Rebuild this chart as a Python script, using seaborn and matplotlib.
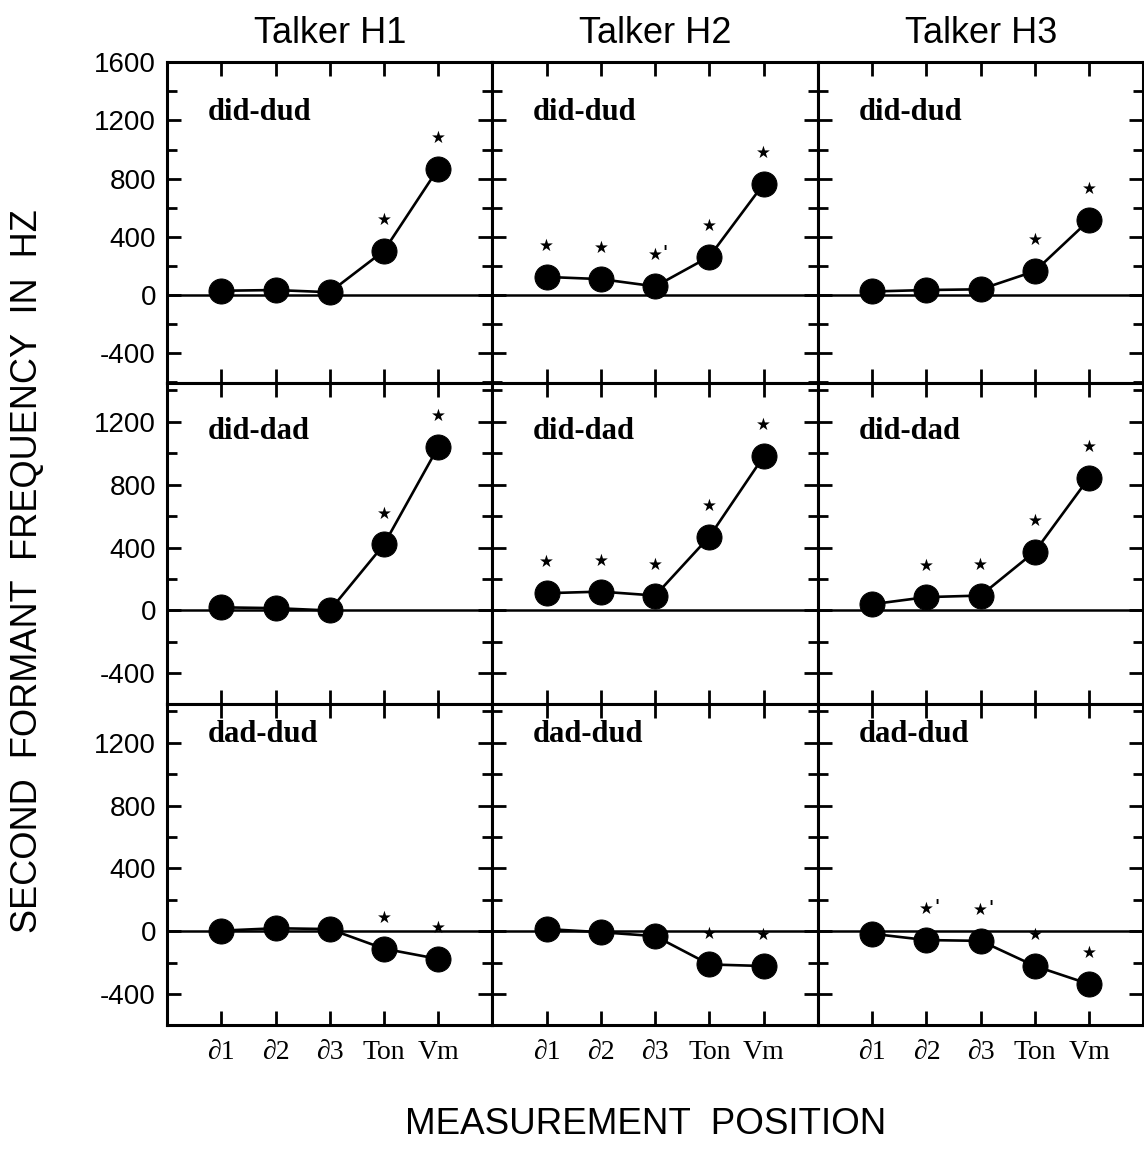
import numpy as np
import pandas as pd
import matplotlib
matplotlib.use("Agg")
import matplotlib.pyplot as plt
import seaborn as sns
from matplotlib.ticker import MultipleLocator

# ---------------- data ----------------
positions = ["∂1", "∂2", "∂3", "Ton", "Vm"]
talkers = ["Talker H1", "Talker H2", "Talker H3"]
contrasts = ["did-dud", "did-dad", "dad-dud"]

h1_did_dud = [30, 35, 20, 305, 870]
h2_did_dud = [125, 110, 60, 265, 765]
h3_did_dud = [25, 35, 40, 165, 515]
h1_did_dad = [20, 15, 0, 420, 1040]
h2_did_dad = [110, 120, 95, 470, 980]
h3_did_dad = [40, 85, 95, 375, 845]
h1_dad_dud = [5, 20, 15, -110, -175]
h2_dad_dud = [15, -5, -30, -210, -220]
h3_dad_dud = [-15, -55, -60, -220, -335]

sig_h1_did_dud = ["", "", "", "*", "*"]
sig_h2_did_dud = ["*", "*", "*'", "*", "*"]
sig_h3_did_dud = ["", "", "", "*", "*"]
sig_h1_did_dad = ["", "", "", "*", "*"]
sig_h2_did_dad = ["*", "*", "*", "*", "*"]
sig_h3_did_dad = ["", "*", "*", "*", "*"]
sig_h1_dad_dud = ["", "", "", "*", "*"]
sig_h2_dad_dud = ["", "", "", "*", "*"]
sig_h3_dad_dud = ["", "*'", "*'", "*", "*"]

values = {
    ("did-dud", "Talker H1"): (h1_did_dud, sig_h1_did_dud),
    ("did-dud", "Talker H2"): (h2_did_dud, sig_h2_did_dud),
    ("did-dud", "Talker H3"): (h3_did_dud, sig_h3_did_dud),
    ("did-dad", "Talker H1"): (h1_did_dad, sig_h1_did_dad),
    ("did-dad", "Talker H2"): (h2_did_dad, sig_h2_did_dad),
    ("did-dad", "Talker H3"): (h3_did_dad, sig_h3_did_dad),
    ("dad-dud", "Talker H1"): (h1_dad_dud, sig_h1_dad_dud),
    ("dad-dud", "Talker H2"): (h2_dad_dud, sig_h2_dad_dud),
    ("dad-dud", "Talker H3"): (h3_dad_dud, sig_h3_dad_dud),
}

rows = []
for (contrast, talker), (vals, sigs) in values.items():
    for i, (p, v, s) in enumerate(zip(positions, vals, sigs)):
        rows.append(dict(contrast=contrast, talker=talker, pos=i,
                         label=p, hz=v, sig=s))
df = pd.DataFrame(rows)

# ---------------- style ----------------
sns.set_theme(style="ticks")
plt.rcParams["font.family"] = ["Liberation Sans", "DejaVu Sans"]
plt.rcParams["axes.unicode_minus"] = False
plt.rcParams["text.color"] = "black"
plt.rcParams["axes.labelcolor"] = "black"
plt.rcParams["xtick.color"] = "black"
plt.rcParams["ytick.color"] = "black"
plt.rcParams["axes.edgecolor"] = "black"

fig, axes = plt.subplots(3, 3, figsize=(11.44, 11.53), dpi=100)
fig.subplots_adjust(left=0.146, right=0.9995, top=0.946, bottom=0.111,
                    hspace=0, wspace=0)

row_ylim = [(-605, 1600), (-595, 1445), (-595, 1445)]
row_label_y = [0.845, 0.850, 0.905]
serif = ["Liberation Serif", "DejaVu Serif"]

for r, contrast in enumerate(contrasts):
    for c, talker in enumerate(talkers):
        ax = axes[r, c]
        sub = df[(df.contrast == contrast) & (df.talker == talker)]
        ax.axhline(0, color="black", lw=1.8, zorder=1)
        sns.lineplot(data=sub, x="pos", y="hz", ax=ax, color="black",
                     lw=1.9, marker="o", markersize=18,
                     markeredgecolor="black", markerfacecolor="black",
                     sort=False, legend=False, zorder=3)
        for _, row in sub.iterrows():
            if row.sig:
                ax.annotate("★", xy=(row.pos, row.hz), xytext=(0, 31),
                            textcoords="offset pixels", ha="center",
                            va="center", fontsize=12, color="black",
                            family="DejaVu Sans")
                if row.sig.endswith("'"):
                    ax.annotate("'", xy=(row.pos, row.hz), xytext=(10, 33),
                                textcoords="offset pixels", ha="center",
                                va="center", fontsize=12, color="black",
                                fontweight="bold", family="DejaVu Sans")
        ax.set_xlim(-1.0, 5.0)
        ax.set_ylim(*row_ylim[r])
        ax.set_xticks(range(len(positions)))
        ax.set_xticklabels(positions, family=serif, fontsize=20)
        ax.yaxis.set_major_locator(MultipleLocator(400))
        ax.yaxis.set_minor_locator(MultipleLocator(200))
        ax.tick_params(which="both", direction="in", top=True, right=True,
                       left=True, bottom=True, width=2, color="black")
        ax.tick_params(which="major", length=10)
        ax.tick_params(which="minor", length=7)
        ax.tick_params(axis="y", labelsize=20, pad=8,
                       labelleft=(c == 0))
        ax.tick_params(axis="x", pad=11, labelbottom=(r == 2))
        for sp in ax.spines.values():
            sp.set_linewidth(2.2)
            sp.set_color("black")
        ax.set_xlabel("")
        ax.set_ylabel("")
        ax.text(0.125, row_label_y[r], contrast, transform=ax.transAxes,
                family=serif, fontweight="bold", fontsize=22,
                ha="left", va="center", color="black")
        if r == 0:
            ax.set_title(talker, fontsize=26, pad=14, color="black")

fig.text(28 / 1144, 0.505, "SECOND  FORMANT  FREQUENCY  IN  HZ",
         rotation=90, ha="center", va="center", fontsize=26, color="black")
fig.text(0.564, 0.025, "MEASUREMENT  POSITION", ha="center", va="center",
         fontsize=26.5, color="black")

fig.savefig("out.png", dpi=100)
